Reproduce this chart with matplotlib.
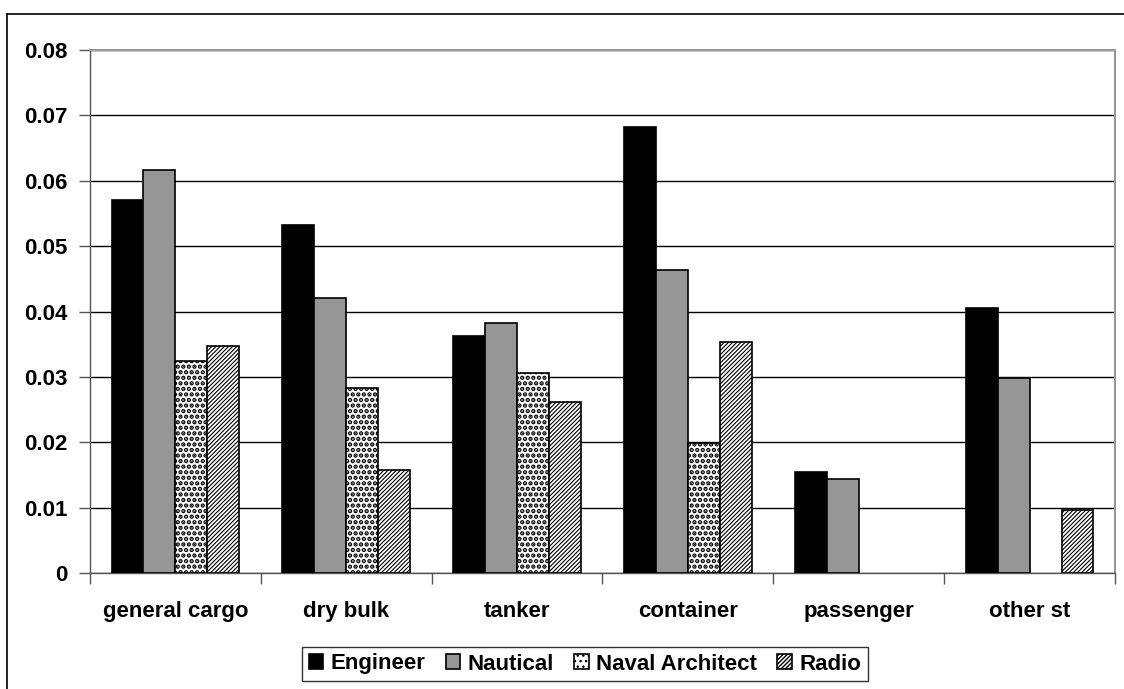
import matplotlib.pyplot as plt
import numpy as np
from matplotlib.lines import Line2D

plt.rcParams["font.family"] = ["Liberation Sans", "DejaVu Sans"]

categories = ["general cargo", "dry bulk", "tanker", "container", "passenger", "other st"]
engineer = [0.0570, 0.0532, 0.0363, 0.0682, 0.0155, 0.0405]
nautical = [0.0617, 0.0420, 0.0382, 0.0463, 0.0144, 0.0299]
naval_architect = [0.0324, 0.0283, 0.0306, 0.0199, 0.0, 0.0]
radio = [0.0347, 0.0158, 0.0261, 0.0354, 0.0, 0.0096]
y_ticks = [0, 0.01, 0.02, 0.03, 0.04, 0.05, 0.06, 0.07, 0.08]
y_labels = ["0", "0.01", "0.02", "0.03", "0.04", "0.05", "0.06", "0.07", "0.08"]

# name, values, fill, hatch, hatch line width
series = [
    ("Engineer", engineer, "black", None, 1.0),
    ("Nautical", nautical, "#969696", None, 1.0),
    ("Naval Architect", naval_architect, "white", "...", 2.2),
    ("Radio", radio, "white", "////////", 0.8),
]

fig = plt.figure(figsize=(11.24, 6.89), dpi=100)
ax = fig.add_axes([90 / 1124, 1 - 573 / 689, 1025 / 1124, 523 / 689])

x = np.arange(len(categories))
w = 0.187
for i, (name, vals, color, hatch, hlw) in enumerate(series):
    offs = (i - 1.5) * w
    v = np.array(vals)
    mask = v > 0
    with plt.rc_context({"hatch.linewidth": hlw}):
        ax.bar(x[mask] + offs, v[mask], width=w, color=color, edgecolor="black",
               linewidth=1.2, hatch=hatch, label=name, zorder=3)

ax.set_xlim(-0.5, len(categories) - 0.5)
ax.set_ylim(0, 0.08)
ax.set_yticks(y_ticks)
ax.set_yticklabels(y_labels, fontsize=16, fontweight="bold")
ax.yaxis.grid(True, color="black", linewidth=1, zorder=0)
ax.set_axisbelow(True)

ax.set_xticks(x)
ax.set_xticklabels(categories, fontsize=16, fontweight="bold")
ax.tick_params(axis="x", length=0, pad=20)
ax.set_xticks(np.arange(len(categories) + 1) - 0.5, minor=True)
ax.tick_params(axis="x", which="minor", length=8, color="#555555", width=1)
ax.tick_params(axis="y", length=8, color="#555555", width=1, pad=8)

for side in ["top", "right"]:
    ax.spines[side].set_color("#999999")
    ax.spines[side].set_linewidth(1.5)
for side in ["left", "bottom"]:
    ax.spines[side].set_color("#555555")
    ax.spines[side].set_linewidth(1)

handles, labels = ax.get_legend_handles_labels()
leg = fig.legend(handles, labels, loc="center", bbox_to_anchor=(585 / 1124, 1 - 664 / 689),
                 ncol=4, prop={"weight": "bold", "size": 16},
                 frameon=True, fancybox=False, edgecolor="black",
                 handlelength=0.65, handleheight=0.65, handletextpad=0.35,
                 columnspacing=0.9, borderpad=0.3)
leg.get_frame().set_linewidth(1)

# outer chart border (top and left visible)
fig.add_artist(Line2D([7 / 1124, 1], [1 - 14 / 689, 1 - 14 / 689], color="black", linewidth=1.2))
fig.add_artist(Line2D([7 / 1124, 7 / 1124], [0, 1 - 14 / 689], color="black", linewidth=1.2))

fig.savefig("out.png", dpi=100)
